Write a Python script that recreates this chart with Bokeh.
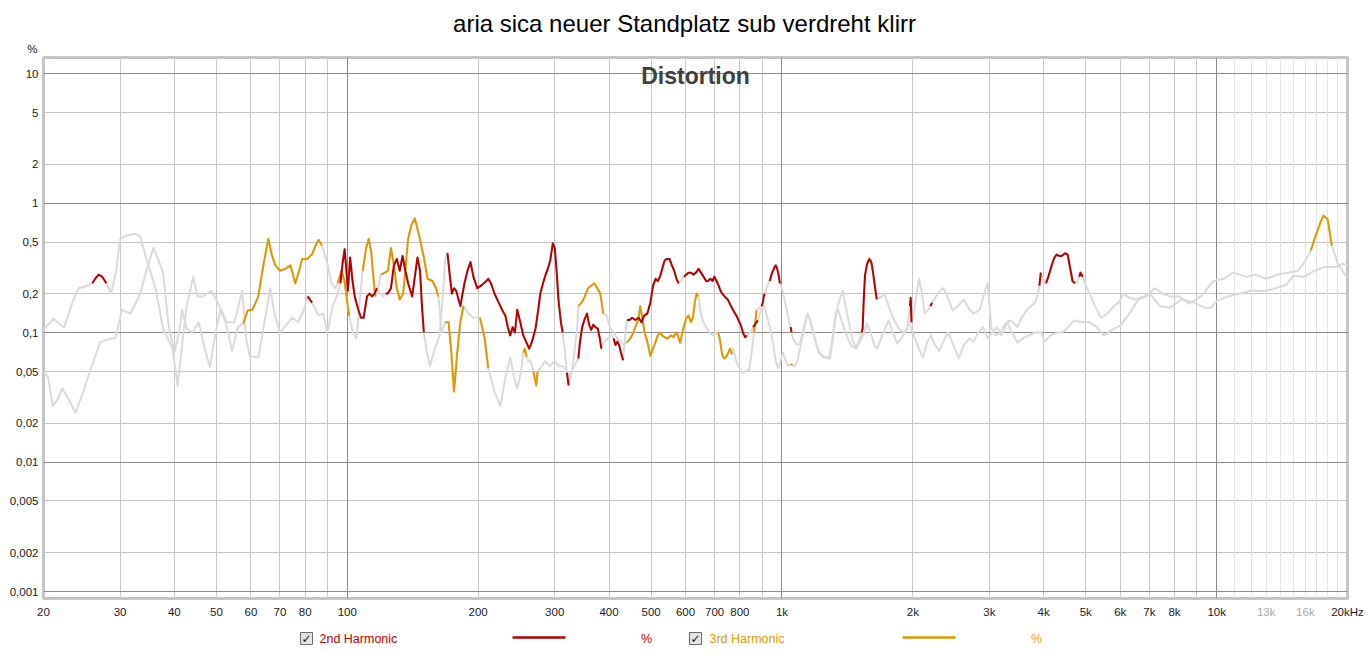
import numpy as np
from bokeh.plotting import figure
from bokeh.layouts import column
from bokeh.models import FixedTicker, Grid, Label, ColumnDataSource, Range1d, LogAxis
from bokeh.core.properties import value
from bokeh.embed import file_html
from bokeh.resources import INLINE

# ---------------- data ----------------
title_text = "aria sica neuer Standplatz sub verdreht klirr"
panel_text = "Distortion"
series_names = ["2nd Harmonic", "3rd Harmonic"]
unit_text = "%"

x_ticks = [20, 30, 40, 50, 60, 70, 80, 100, 200, 300, 400, 500, 600, 700, 800,
           1000, 2000, 3000, 4000, 5000, 6000, 7000, 8000, 10000, 20000]
x_tick_labels = ["20", "30", "40", "50", "60", "70", "80", "100", "200", "300", "400", "500", "600", "700", "800",
                 "1k", "2k", "3k", "4k", "5k", "6k", "7k", "8k", "10k", "20kHz"]
x_faint_ticks = [13000, 16000]
x_faint_labels = ["13k", "16k"]
y_ticks = [0.001, 0.002, 0.005, 0.01, 0.02, 0.05, 0.1, 0.2, 0.5, 1, 2, 5, 10]
y_tick_labels = ["0,001", "0,002", "0,005", "0,01", "0,02", "0,05", "0,1", "0,2", "0,5", "1", "2", "5", "10"]

h2_freq = [
    20.0, 21.1, 22.3, 23.3, 24.1, 25.2, 25.9, 26.4, 26.8, 27.3,
    27.9, 28.6, 29.4, 30.0, 31.0, 32.5, 33.4, 34.2, 36.2, 37.7,
    39.6, 40.7, 41.9, 42.7, 44.2, 45.2, 46.5, 48.7, 51.3, 52.8,
    55.0, 57.3, 58.5, 59.6, 62.4, 64.5, 66.5, 68.0, 70.0, 72.5,
    74.7, 77.0, 79.5, 81.0, 82.0, 83.0, 84.5, 86.0, 88.0, 90.0,
    92.5, 94.5, 96.4, 97.5, 98.6, 99.5, 100.3, 101.5, 102.8, 104.0,
    106, 107.5, 109, 111, 112.5, 114, 115.5, 117, 119, 121,
    122.5, 124, 126, 128, 130, 132, 134, 136, 138, 141,
    143, 145, 147, 148.5, 150, 152.5, 155, 159, 163, 166,
    168, 170, 172, 174, 176, 178, 182, 186, 189, 192,
    195, 199, 203, 206, 209, 211, 214, 218, 223, 227,
    231, 234, 237, 240, 243, 246, 250, 254, 257, 262,
    266, 271, 275, 278, 282, 285, 290, 293, 297, 300,
    303, 306, 310, 313, 316, 318.5, 320, 323, 327, 333,
    337, 340, 343, 347, 351, 356, 360, 364, 368, 372,
    377, 381, 384, 390, 398, 405, 410, 414, 418, 422,
    426, 431, 435, 440, 446, 452, 460, 468, 475, 482,
    490, 498, 505, 512, 518, 524, 530, 537, 544, 551,
    558, 565, 572, 578, 586, 595, 602, 610, 618, 625,
    634, 643, 651, 660, 669, 676, 684, 692, 699, 707,
    715, 722, 728, 738, 750, 760, 771, 780, 790, 798,
    805, 813, 822, 830, 845, 858, 866, 874, 880, 890,
    898, 903, 908, 913, 925, 937, 946, 954, 961, 968,
    975, 982, 989, 1000, 1010, 1025, 1040, 1047, 1052, 1060,
    1070, 1085, 1100, 1115, 1130, 1145, 1160, 1180, 1200, 1220,
    1250, 1290, 1310, 1330, 1345, 1365, 1400, 1440, 1480, 1510,
    1525, 1533, 1542, 1552, 1570, 1589, 1605, 1620, 1635, 1652,
    1680, 1720, 1760, 1800, 1857, 1900, 1940, 1970, 1978, 1986,
    2010, 2040, 2067, 2100, 2130, 2170, 2195, 2215, 2260, 2310,
    2350, 2400, 2470, 2540, 2620, 2700, 2760, 2850, 2920, 2970,
    3000, 3030, 3100, 3180, 3250, 3330, 3400, 3480, 3560, 3650,
    3740, 3820, 3880, 3910, 3940, 3990, 4050, 4100, 4150, 4220,
    4280, 4340, 4400, 4480, 4540, 4590, 4660, 4720, 4780, 4830,
    4860, 4920, 5000, 5100, 5250, 5420, 5600, 5800, 5950, 6110,
    6300, 6500, 6800, 7000, 7200, 7400, 7800, 8300, 8900, 9400,
    9700, 10000, 10600, 11300, 12000, 13000, 13700, 14500, 15000, 15900,
    16800, 17700, 18700, 19500, 20000,
]
h2_pct = [
    0.105, 0.128, 0.109, 0.17, 0.22, 0.23, 0.24, 0.265, 0.28, 0.27,
    0.24, 0.2, 0.3, 0.53, 0.56, 0.58, 0.55, 0.41, 0.22, 0.107,
    0.075, 0.039, 0.095, 0.16, 0.27, 0.19, 0.19, 0.21, 0.15, 0.12,
    0.12, 0.21, 0.09, 0.066, 0.064, 0.12, 0.22, 0.14, 0.1, 0.115,
    0.13, 0.12, 0.15, 0.19, 0.18, 0.17, 0.15, 0.135, 0.14, 0.1,
    0.16, 0.19, 0.24, 0.34, 0.44, 0.3, 0.21, 0.38, 0.25, 0.19,
    0.15, 0.13, 0.13, 0.19, 0.2, 0.19, 0.2, 0.22, 0.2, 0.19,
    0.2, 0.2, 0.22, 0.33, 0.37, 0.3, 0.39, 0.3, 0.24, 0.19,
    0.27, 0.38, 0.3, 0.16, 0.1, 0.07, 0.055, 0.075, 0.095, 0.2,
    0.37, 0.41, 0.28, 0.2, 0.22, 0.21, 0.16, 0.24, 0.3, 0.35,
    0.27, 0.22, 0.23, 0.24, 0.25, 0.26, 0.24, 0.2, 0.17, 0.15,
    0.135, 0.11, 0.095, 0.11, 0.1, 0.15, 0.12, 0.095, 0.087, 0.075,
    0.085, 0.107, 0.15, 0.2, 0.24, 0.27, 0.32, 0.36, 0.49, 0.45,
    0.3, 0.18, 0.12, 0.1, 0.075, 0.058, 0.049, 0.039, 0.05, 0.055,
    0.06, 0.063, 0.085, 0.11, 0.125, 0.14, 0.115, 0.105, 0.115, 0.11,
    0.107, 0.09, 0.075, 0.085, 0.09, 0.095, 0.09, 0.08, 0.085, 0.08,
    0.07, 0.061, 0.09, 0.125, 0.125, 0.13, 0.125, 0.13, 0.12, 0.135,
    0.14, 0.17, 0.23, 0.26, 0.25, 0.27, 0.31, 0.36, 0.37, 0.37,
    0.33, 0.3, 0.26, 0.24, 0.25, 0.27, 0.28, 0.29, 0.29, 0.28,
    0.29, 0.31, 0.29, 0.27, 0.25, 0.25, 0.26, 0.25, 0.27, 0.25,
    0.23, 0.21, 0.2, 0.19, 0.18, 0.165, 0.15, 0.14, 0.13, 0.12,
    0.113, 0.1, 0.092, 0.095, 0.1, 0.11, 0.115, 0.12, 0.124, 0.14,
    0.16, 0.17, 0.19, 0.2, 0.23, 0.25, 0.28, 0.3, 0.32, 0.33,
    0.31, 0.28, 0.24, 0.22, 0.19, 0.15, 0.12, 0.11, 0.1, 0.09,
    0.085, 0.08, 0.082, 0.1, 0.12, 0.14, 0.125, 0.1, 0.08, 0.07,
    0.065, 0.063, 0.09, 0.14, 0.15, 0.13, 0.1, 0.08, 0.075, 0.09,
    0.1, 0.107, 0.18, 0.275, 0.34, 0.37, 0.35, 0.29, 0.23, 0.18,
    0.185, 0.2, 0.16, 0.13, 0.107, 0.1, 0.105, 0.16, 0.185, 0.12,
    0.14, 0.2, 0.26, 0.2, 0.14, 0.15, 0.16, 0.17, 0.19, 0.21,
    0.22, 0.19, 0.148, 0.16, 0.18, 0.15, 0.14, 0.15, 0.2, 0.24,
    0.17, 0.107, 0.095, 0.1, 0.115, 0.124, 0.12, 0.11, 0.13, 0.148,
    0.16, 0.17, 0.2, 0.23, 0.29, 0.26, 0.24, 0.27, 0.31, 0.37,
    0.4, 0.39, 0.39, 0.41, 0.4, 0.33, 0.25, 0.24, 0.245, 0.27,
    0.29, 0.27, 0.23, 0.2, 0.16, 0.13, 0.14, 0.16, 0.17, 0.2,
    0.185, 0.18, 0.19, 0.2, 0.18, 0.16, 0.155, 0.18, 0.17, 0.155,
    0.155, 0.175, 0.19, 0.2, 0.21, 0.21, 0.22, 0.235, 0.275, 0.27,
    0.3, 0.32, 0.32, 0.34, 0.33,
]
# frequency ranges where the 2nd harmonic is drawn in colour
h2_valid = [(25.9, 27.9), (81, 83), (96.4, 117), (122.5, 150), (170, 313), (320, 323),
            (340, 384), (410, 431), (440, 578), (595, 830), (858, 880), (898, 913),
            (937, 989), (1047, 1052), (1525, 1652), (1970, 1986), (2195, 2215),
            (3910, 3940), (4050, 4720), (4830, 4920)]

h3_freq = [
    20.0, 20.5, 21.0, 21.5, 22.1, 22.9, 23.7, 24.7, 25.7, 27.0,
    28.0, 29.3, 30.3, 31.7, 33.4, 34.5, 35.8, 36.8, 37.7, 38.7,
    40.0, 41.0, 41.7, 42.7, 44.0, 45.5, 47.0, 48.3, 49.5, 51.0,
    52.5, 54.3, 56.0, 57.6, 59.0, 60.5, 62.4, 64.1, 65.8, 67.0,
    68.3, 70.0, 72.0, 74.0, 75.9, 77.5, 78.7, 80.8, 82.9, 84.5,
    85.9, 87.4, 89.8, 92.0, 94.0, 95.0, 97.0, 98.5, 100.0, 101.0,
    103, 105, 107, 108.5, 110.5, 112, 113.5, 115, 116, 118,
    119.5, 122, 124, 126, 128, 130, 132, 134.5, 136.5, 138,
    140.5, 143, 146.5, 150, 153, 157, 160, 162, 165, 168,
    171, 173.5, 176, 179, 182, 185, 190, 195, 202, 207,
    211, 218, 225, 231, 237, 242, 246, 251, 254, 256,
    258.5, 261, 264, 268, 272, 274, 280, 285, 292, 300,
    307, 313, 320, 327, 333, 338, 340, 346, 352, 358,
    364, 370, 376, 382, 388, 395, 402, 410, 418, 425,
    432, 440, 448, 455, 462, 467, 472, 477, 483, 490,
    498, 505, 512, 518, 524, 530, 537, 546, 555, 563,
    570, 576, 583, 590, 596, 603, 610, 617, 624, 630,
    636, 642, 650, 660, 670, 682, 693, 703, 713, 719,
    725, 731, 737, 744, 752, 760, 767, 772, 785, 800,
    810, 825, 840, 852, 862, 868, 874, 885, 897, 910,
    925, 940, 955, 968, 980, 992, 1005, 1020, 1035, 1048,
    1058, 1070, 1085, 1100, 1120, 1145, 1165, 1190, 1215, 1240,
    1280, 1300, 1320, 1350, 1380, 1400, 1425, 1450, 1480, 1510,
    1545, 1570, 1600, 1630, 1655, 1690, 1730, 1760, 1800, 1840,
    1880, 1920, 1960, 2000, 2050, 2110, 2160, 2200, 2250, 2300,
    2350, 2410, 2480, 2550, 2620, 2700, 2760, 2830, 2900, 2970,
    3050, 3120, 3200, 3300, 3380, 3480, 3580, 3700, 3820, 3950,
    4020, 4150, 4300, 4420, 4550, 4700, 4900, 5100, 5300, 5500,
    5750, 6000, 6300, 6600, 6900, 7200, 7500, 7800, 8200, 8640,
    9200, 9840, 10400, 10900, 11700, 12300, 13000, 13800, 14600, 15400,
    16000, 16470, 16800, 17000, 17300, 17600, 18000, 18200, 18400, 19000,
    19800, 20000,
]
h3_pct = [
    0.05, 0.045, 0.027, 0.03, 0.037, 0.03, 0.024, 0.035, 0.053, 0.084,
    0.088, 0.091, 0.15, 0.14, 0.2, 0.3, 0.45, 0.36, 0.29, 0.12,
    0.07, 0.1, 0.15, 0.107, 0.1, 0.12, 0.075, 0.054, 0.09, 0.15,
    0.12, 0.072, 0.11, 0.117, 0.148, 0.15, 0.19, 0.33, 0.53, 0.4,
    0.33, 0.3, 0.31, 0.33, 0.24, 0.3, 0.37, 0.37, 0.4, 0.47,
    0.52, 0.47, 0.35, 0.24, 0.22, 0.24, 0.3, 0.25, 0.17, 0.135,
    0.1, 0.09, 0.19, 0.3, 0.45, 0.53, 0.42, 0.25, 0.19, 0.23,
    0.28, 0.29, 0.3, 0.45, 0.33, 0.22, 0.18, 0.2, 0.35, 0.53,
    0.68, 0.76, 0.55, 0.38, 0.26, 0.25, 0.22, 0.19, 0.1, 0.12,
    0.12, 0.07, 0.035, 0.07, 0.12, 0.16, 0.14, 0.13, 0.13, 0.09,
    0.053, 0.035, 0.027, 0.045, 0.064, 0.045, 0.037, 0.05, 0.07, 0.075,
    0.065, 0.06, 0.06, 0.05, 0.039, 0.05, 0.055, 0.06, 0.055, 0.06,
    0.055, 0.055, 0.05, 0.045, 0.07, 0.11, 0.16, 0.17, 0.19, 0.22,
    0.23, 0.24, 0.22, 0.2, 0.14, 0.135, 0.11, 0.1, 0.09, 0.085,
    0.08, 0.084, 0.09, 0.1, 0.115, 0.125, 0.16, 0.13, 0.1, 0.085,
    0.066, 0.075, 0.085, 0.095, 0.1, 0.095, 0.092, 0.09, 0.095, 0.092,
    0.1, 0.095, 0.083, 0.1, 0.115, 0.13, 0.135, 0.12, 0.13, 0.17,
    0.2, 0.19, 0.14, 0.12, 0.11, 0.1, 0.095, 0.1, 0.1, 0.09,
    0.075, 0.065, 0.063, 0.065, 0.07, 0.075, 0.068, 0.075, 0.06, 0.052,
    0.049, 0.05, 0.052, 0.07, 0.1, 0.12, 0.148, 0.155, 0.155, 0.16,
    0.13, 0.107, 0.08, 0.06, 0.053, 0.06, 0.07, 0.06, 0.055, 0.057,
    0.056, 0.055, 0.06, 0.075, 0.1, 0.14, 0.12, 0.09, 0.07, 0.065,
    0.063, 0.08, 0.12, 0.17, 0.21, 0.16, 0.12, 0.09, 0.075, 0.085,
    0.1, 0.117, 0.1, 0.08, 0.075, 0.09, 0.11, 0.124, 0.1, 0.082,
    0.09, 0.1, 0.12, 0.1, 0.08, 0.064, 0.085, 0.095, 0.08, 0.072,
    0.085, 0.1, 0.08, 0.063, 0.08, 0.09, 0.085, 0.1, 0.11, 0.09,
    0.1, 0.11, 0.095, 0.12, 0.1, 0.084, 0.09, 0.095, 0.1, 0.1,
    0.085, 0.095, 0.1, 0.1, 0.11, 0.124, 0.12, 0.12, 0.11, 0.095,
    0.105, 0.113, 0.14, 0.18, 0.19, 0.22, 0.2, 0.19, 0.19, 0.167,
    0.19, 0.25, 0.26, 0.29, 0.27, 0.28, 0.26, 0.28, 0.29, 0.3,
    0.36, 0.43, 0.53, 0.59, 0.7, 0.8, 0.75, 0.6, 0.47, 0.34,
    0.275, 0.27,
]
h3_valid = [(57.6, 87.4), (95, 101), (108.5, 116), (119.5, 162), (168, 185), (202, 211),
            (254, 258.5), (268, 274), (340, 388), (440, 642), (713, 767), (862, 874),
            (1048, 1058), (16470, 18400)]

# ---------------- styling ----------------
RED = "#b40000"
ORANGE = "#e09a00"
GRAY_CURVE = "#dadada"
FONT = "Liberation Sans"

X0, X1 = 20, 20000
Y0, Y1 = 0.000883, 13.3
W = 1366
FRAME_L, FRAME_W = 43, 1304
TOP_H = 55      # title strip height
LEG_H = 30      # legend strip height


def colored(freqs, pcts, ranges):
    out = []
    for f, v in zip(freqs, pcts):
        out.append(v if any(a <= f <= b for a, b in ranges) else np.nan)
    return np.array(out, dtype=float)


def strip(height, with_axis=False):
    f = figure(width=W, height=height, x_range=Range1d(FRAME_L, FRAME_L + FRAME_W), y_range=Range1d(0, height),
               output_backend="svg", toolbar_location=None, min_border=0,
               x_axis_location=None, y_axis_location="left" if with_axis else None)
    f.outline_line_color = None
    f.grid.visible = False
    f.background_fill_color = "white"
    f.border_fill_color = "white"
    return f


# ---------------- title strip (with the unit shown as the y-axis caption) ----------------
top = strip(TOP_H, with_axis=True)
unit_y = TOP_H - 48
top.yaxis.ticker = FixedTicker(ticks=[unit_y])
top.yaxis.major_label_overrides = {unit_y: unit_text}
top.yaxis.axis_line_color = None
top.yaxis.major_tick_line_color = None
top.yaxis.minor_tick_line_color = None
top.yaxis.major_tick_out = 0
top.yaxis.major_tick_in = 0
top.yaxis.minor_tick_out = 0
top.yaxis.minor_tick_in = 0
top.yaxis.major_label_standoff = 6
top.yaxis.major_label_text_font = FONT
top.yaxis.major_label_text_font_size = "11.5px"
top.yaxis.major_label_text_color = "#1a1a1a"
top.text(x=[684], y=[TOP_H - 23], text=[title_text], text_align="center", text_baseline="middle",
         text_font=value(FONT), text_font_size="24px", text_color="#000000")

# ---------------- main chart ----------------
p = figure(frame_width=FRAME_W, frame_height=541, x_axis_type="log", y_axis_type="log",
           x_range=Range1d(X0, X1), y_range=Range1d(Y0, Y1), title=None,
           output_backend="svg", toolbar_location=None,
           min_border_left=FRAME_L, min_border_right=W - FRAME_L - FRAME_W, min_border_top=2,
           min_border_bottom=24)
p.background_fill_color = "white"
p.border_fill_color = "white"
p.outline_line_color = "#c4c4c4"
p.outline_line_width = 3

# grids
p.xgrid.ticker = FixedTicker(ticks=[30, 40, 50, 60, 70, 80, 90, 200, 300, 400, 500, 600, 700, 800, 900,
                                    2000, 3000, 4000, 5000, 6000, 7000, 8000, 9000])
p.xgrid.grid_line_color = "#c8c8c8"
p.ygrid.ticker = FixedTicker(ticks=[0.002, 0.005, 0.02, 0.05, 0.2, 0.5, 2, 5])
p.ygrid.grid_line_color = "#c4c4c4"
p.add_layout(Grid(dimension=0, ticker=FixedTicker(ticks=[11000, 12000, 13000, 14000, 15000, 16000,
                                                         17000, 18000, 19000]),
                  grid_line_color="#e4e4e4"))
p.add_layout(Grid(dimension=0, ticker=FixedTicker(ticks=[100, 1000, 10000]), grid_line_color="#8a8a8a"))
p.add_layout(Grid(dimension=1, ticker=FixedTicker(ticks=[0.001, 0.01, 0.1, 1, 10]), grid_line_color="#8a8a8a"))

# axes
p.xaxis.ticker = FixedTicker(ticks=x_ticks)
p.xaxis.major_label_overrides = {t: s for t, s in zip(x_ticks, x_tick_labels)}
p.yaxis.ticker = FixedTicker(ticks=y_ticks)
p.yaxis.major_label_overrides = {t: s for t, s in zip(y_ticks, y_tick_labels)}
faint = LogAxis(ticker=FixedTicker(ticks=x_faint_ticks),
                major_label_overrides={t: s for t, s in zip(x_faint_ticks, x_faint_labels)})
p.add_layout(faint, "below")
for ax in (p.xaxis[0], p.yaxis[0], faint):
    ax.axis_line_color = None
    ax.major_tick_line_color = None
    ax.minor_tick_line_color = None
    ax.major_tick_out = 0
    ax.major_tick_in = 0
    ax.minor_tick_out = 0
    ax.minor_tick_in = 0
    ax.major_label_text_font = FONT
    ax.major_label_text_font_size = "11.5px"
    ax.major_label_text_color = "#1a1a1a"
p.xaxis[0].major_label_standoff = 7
p.yaxis[0].major_label_standoff = 5
faint.major_label_text_color = "#a8a8a8"
faint.major_label_standoff = -15

# curves
src2 = ColumnDataSource(dict(f=h2_freq, v=h2_pct, c=colored(h2_freq, h2_pct, h2_valid)))
src3 = ColumnDataSource(dict(f=h3_freq, v=h3_pct, c=colored(h3_freq, h3_pct, h3_valid)))
p.line("f", "v", source=src2, line_color=GRAY_CURVE, line_width=2, line_join="round")
p.line("f", "v", source=src3, line_color=GRAY_CURVE, line_width=2, line_join="round")
p.line("f", "c", source=src3, line_color=ORANGE, line_width=2, line_join="round")
p.line("f", "c", source=src2, line_color=RED, line_width=2, line_join="round")

# panel label inside the frame (frame-relative screen units)
p.add_layout(Label(x=652, y=523, x_units="screen", y_units="screen", text=panel_text,
                   text_align="center", text_baseline="middle", text_font=FONT,
                   text_font_size="23px", text_font_style="bold", text_color="#404040"))

# ---------------- legend strip ----------------
lg = strip(LEG_H)
leg_box_x = [300, 689]
leg_text_x = [319, 709]
leg_line_x0 = [512, 902]
leg_line_x1 = [565, 955]
leg_unit_x = [646, 1036]
leg_colors = [RED, ORANGE]
mid = 14
lg.quad(left=leg_box_x, right=[v + 12 for v in leg_box_x], bottom=mid - 6, top=mid + 6,
        fill_color="#e4e4e4", line_color="#6a6a6a", line_width=1)
lg.text(x=[v + 6 for v in leg_box_x], y=mid, text=["\u2713", "\u2713"], text_align="center",
        text_baseline="middle", text_font=value("DejaVu Sans"), text_font_size="12px",
        text_font_style="bold", text_color="#111111")
lg.text(x=leg_text_x, y=mid, text=series_names, text_align="left", text_baseline="middle",
        text_font=value(FONT), text_font_size="12.5px", text_color=leg_colors)
lg.segment(x0=leg_line_x0, y0=mid + 1, x1=leg_line_x1, y1=mid + 1, line_color=leg_colors, line_width=2.5)
lg.text(x=leg_unit_x, y=mid, text=[unit_text, unit_text], text_align="center", text_baseline="middle",
        text_font=value(FONT), text_font_size="12.5px", text_color=leg_colors)

layout = column(top, p, lg, spacing=0)
open("out.html", "w").write(file_html(layout, INLINE))
